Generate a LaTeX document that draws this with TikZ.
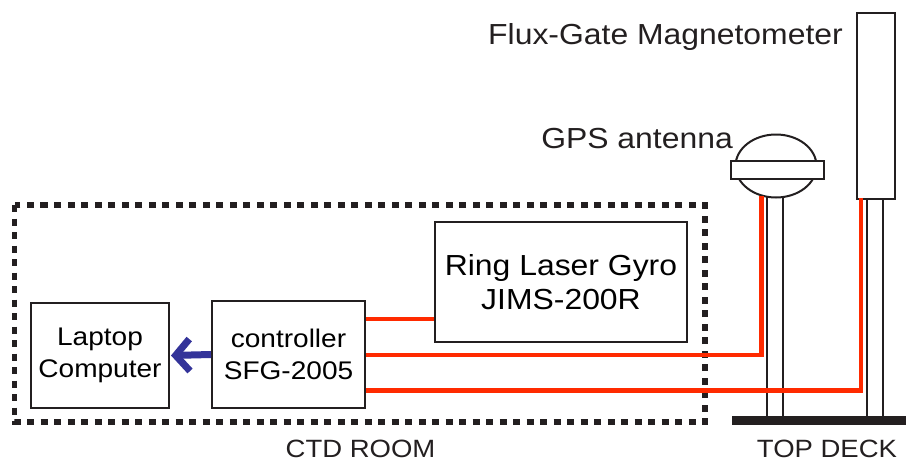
\documentclass[tikz,border=0pt]{standalone}
\usepackage{fontspec}
\setmainfont{Liberation Sans}[FakeStretch=1.1]
\usetikzlibrary{arrows.meta,shapes.geometric}
\definecolor{cable}{HTML}{FF2A00}
\definecolor{link}{HTML}{333399}
\definecolor{ink}{HTML}{231F20}
\tikzset{
  unit/.style={draw=ink, line width=2pt, fill=white, align=center, inner sep=0pt},
  lbl/.style={text=ink, inner sep=0pt},
  wire/.style={draw=cable, line width=4.5pt, line join=miter},
  mast/.style={draw=ink, line width=2pt},
  room/.style={draw=ink, line width=5.5pt, dash pattern=on 7pt off 6.5pt}
}
\begin{document}
\begin{tikzpicture}[x=1pt,y=-1pt]
\useasboundingbox (0,0) rectangle (906,461);
% room
\draw[room] (14.5,205) rectangle (705,422);
% units
\node[unit, minimum width=138, minimum height=105, font=\fontsize{25.5}{32}\selectfont] (lap) at (100,355.5) {Laptop\\Computer};
\node[unit, minimum width=153, minimum height=107, font=\fontsize{25.5}{32}\selectfont] (ctrl) at (288.5,354.5) {controller\\SFG-2005};
\node[unit, minimum width=252, minimum height=120, font=\fontsize{29}{34}\selectfont] (gyro) at (561,282) {Ring Laser Gyro\\JIMS-200R};
% deck
\fill[ink] (732,416) rectangle (906,425);
\coordinate (deck) at (732,416);
% antenna mast
\coordinate (am1) at (767,185);
\coordinate (am2) at (783,185);
\draw[mast] (am1) -- (am1 |- deck);
\draw[mast] (am2) -- (am2 |- deck);
\node[ellipse, draw=ink, line width=2pt, fill=white, minimum width=81, minimum height=63, inner sep=0pt] (dome) at (776,166) {};
\node[rectangle, draw=ink, line width=2pt, fill=white, minimum width=93, minimum height=18, inner sep=0pt] (abase) at (777.5,170) {};
% magnetometer
\node[unit, minimum width=38, minimum height=186] (mag) at (876,106) {};
\coordinate (mm1) at (867,199);
\coordinate (mm2) at (883,199);
\draw[mast] (mm1) -- (mm1 |- deck);
\draw[mast] (mm2) -- (mm2 |- deck);
% cables
\coordinate (w1) at (ctrl.east |- 0,319);
\coordinate (w2) at (ctrl.east |- 0,355);
\coordinate (w3) at (ctrl.east |- 0,390.5);
\coordinate (gt) at (761.5,196);
\coordinate (mt) at (861,198);
\draw[wire] (w1) -- (gyro.west |- w1);
\draw[wire] (w2) -- (gt |- w2) -- (gt);
\draw[wire] (w3) -- (mt |- w3) -- (mt);
% data link
\draw[draw=link, line width=7pt, -{Straight Barb[length=14pt,width=32pt]}] (ctrl.west) -- ([xshift=1pt]lap.east);
% labels
\node[lbl, anchor=base west, font=\fontsize{29}{34}\selectfont] (tmag) at (488,44) {Flux-Gate Magnetometer};
\node[lbl, anchor=base east, font=\fontsize{29}{34}\selectfont] (tgps) at (733,148) {GPS antenna};
\node[lbl, anchor=base, font=\fontsize{25}{30}\selectfont] (troom) at (360.5,457) {CTD ROOM};
\node[lbl, anchor=base, font=\fontsize{25}{30}\selectfont] (tdeck) at (827,457) {TOP DECK};
\end{tikzpicture}
\end{document}
